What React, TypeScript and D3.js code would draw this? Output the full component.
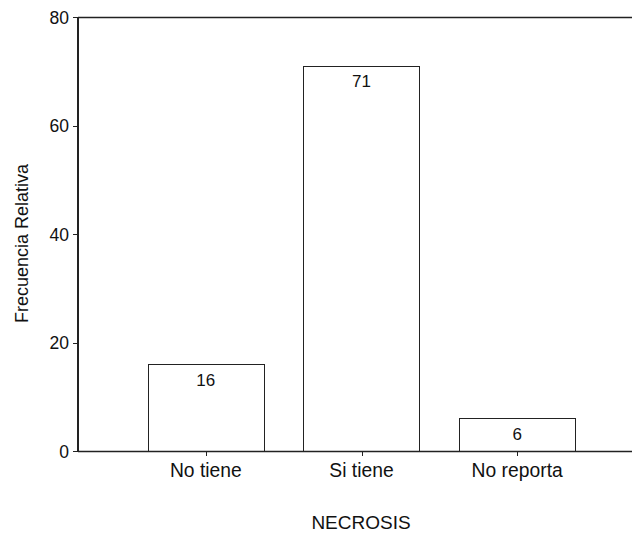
import React from "react";
import * as d3 from "d3";

const categories = ["No tiene", "Si tiene", "No reporta"];
const values = [16, 71, 6];
const yTicks = [0, 20, 40, 60, 80];

export default function App() {
  const W = 632, H = 535;
  const x0 = 78, yTop = 17, yBase = 451;
  const y = d3.scaleLinear().domain([0, 80]).range([yBase, yTop]);
  const x = d3.scaleBand<string>().domain(categories).range([128, 595]).paddingInner(0.254).paddingOuter(0.127);
  const font = "'Liberation Sans', Arial, sans-serif";
  return (
    <svg width={W} height={H} style={{ position: "absolute", left: 0, top: 0, background: "#fff" }} fontFamily={font}>
      <rect x={0} y={0} width={W} height={H} fill="#fff" />
      {categories.map((c, i) => (
        <g key={c}>
          <rect x={Math.round(x(c)!) + 0.5} y={Math.round(y(values[i])) + 0.5} width={Math.round(x.bandwidth())} height={Math.round(yBase - y(values[i]))} fill="#fff" stroke="#222" strokeWidth={1} />
          <text x={x(c)! + x.bandwidth() / 2} y={y(values[i]) + 21.5} textAnchor="middle" fontSize={17} fill="#111">{values[i]}</text>
          <line x1={Math.round(x(c)! + x.bandwidth() / 2) + 0.5} x2={Math.round(x(c)! + x.bandwidth() / 2) + 0.5} y1={yBase} y2={yBase + 5} stroke="#222" />
          <text x={x(c)! + x.bandwidth() / 2} y={477} textAnchor="middle" fontSize={19.3} fill="#111">{c}</text>
        </g>
      ))}
      <line x1={x0} x2={W} y1={yTop + 0.5} y2={yTop + 0.5} stroke="#222" strokeWidth={1.5} />
      <line x1={x0} x2={W} y1={yBase + 0.5} y2={yBase + 0.5} stroke="#222" strokeWidth={1.5} />
      <line x1={x0} x2={x0} y1={yTop} y2={yBase + 1} stroke="#222" strokeWidth={2} />
      {yTicks.map((t) => (
        <g key={t}>
          <line x1={x0 - 5} x2={x0} y1={Math.round(y(t)) + 0.5} y2={Math.round(y(t)) + 0.5} stroke="#222" />
          <text x={69} y={y(t) + 6.5} textAnchor="end" fontSize={17.5} fill="#111">{t}</text>
        </g>
      ))}
      <text transform={`translate(28,243.5) rotate(-90)`} textAnchor="middle" fontSize={18} fill="#111">Frecuencia Relativa</text>
      <text x={361} y={529} textAnchor="middle" fontSize={19} fill="#111">NECROSIS</text>
    </svg>
  );
}
